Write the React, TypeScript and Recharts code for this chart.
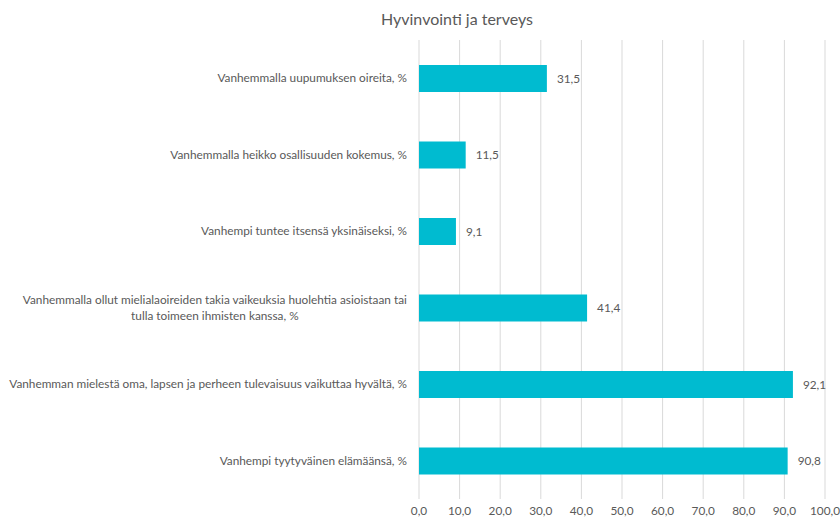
import { BarChart, Bar, XAxis, YAxis, CartesianGrid, LabelList } from "recharts";

const categories = [
  "Vanhemmalla uupumuksen oireita, %",
  "Vanhemmalla heikko osallisuuden kokemus, %",
  "Vanhempi tuntee itsensä yksinäiseksi, %",
  "Vanhemmalla ollut mielialaoireiden takia vaikeuksia huolehtia asioistaan tai\ntulla toimeen ihmisten kanssa, %",
  "Vanhemman mielestä oma, lapsen ja perheen tulevaisuus vaikuttaa hyvältä, %",
  "Vanhempi tyytyväinen elämäänsä, %",
];
const values = [31.5, 11.5, 9.1, 41.4, 92.1, 90.8];
const xTicks = [0, 10, 20, 30, 40, 50, 60, 70, 80, 90, 100];

const FONT = "Lato, 'Open Sans', sans-serif";
const TEXT = "#595959";
const BAR = "#00BBD0";
const LABEL_SIZE = 11.8;

const data = categories.map((name, i) => ({ name, value: values[i] }));

const fmt = (v: number) => v.toFixed(1).replace(".", ",");

let ctx: CanvasRenderingContext2D | null = null;
function measure(s: string, size: number) {
  if (!ctx) ctx = document.createElement("canvas").getContext("2d");
  if (!ctx) return s.length * size * 0.5;
  ctx.font = `${size}px Lato`;
  return ctx.measureText(s).width;
}

function CategoryTick(props: any) {
  const { x, y, payload } = props;
  const lines: string[] = String(payload.value).split("\n");
  if (lines.length === 1) {
    return (
      <text x={x} y={y} dy={4} textAnchor="end" fontSize={LABEL_SIZE} fill={TEXT} fontFamily={FONT}>
        {lines[0]}
      </text>
    );
  }
  // wrapped label: lines centred on each other, right edge at the tick
  const w = Math.max(...lines.map((l) => measure(l, LABEL_SIZE)));
  const lh = 16.5;
  const start = y - ((lines.length - 1) * lh) / 2;
  return (
    <text textAnchor="middle" fontSize={LABEL_SIZE} fill={TEXT} fontFamily={FONT}>
      {lines.map((l, i) => (
        <tspan key={i} x={x - w / 2} y={start + i * lh} dy={4}>
          {l}
        </tspan>
      ))}
    </text>
  );
}

export default function App() {
  return (
    <div style={{ position: "absolute", left: 0, top: 0, width: 840, height: 520, background: "#fff" }}>
      <div
        style={{
          position: "absolute",
          top: 9,
          left: 457,
          transform: "translateX(-50%)",
          fontFamily: FONT,
          fontSize: 16,
          color: TEXT,
          whiteSpace: "nowrap",
        }}
      >
        Hyvinvointi ja terveys
      </div>
      <BarChart
        width={840}
        height={520}
        data={data}
        layout="vertical"
        margin={{ top: 40, right: 15, left: 0, bottom: 0 }}
        barCategoryGap={0}
      >
        <CartesianGrid stroke="#D9D9D9" horizontal={false} />
        <XAxis
          type="number"
          domain={[0, 100]}
          ticks={xTicks}
          interval={0}
          tickFormatter={fmt}
          axisLine={false}
          tickLine={false}
          height={21}
          tick={{ fontSize: LABEL_SIZE, fill: TEXT, fontFamily: FONT }}
        />
        <YAxis
          type="category"
          dataKey="name"
          width={419}
          axisLine={false}
          tickLine={false}
          tickSize={0}
          tickMargin={12}
          interval={0}
          tick={<CategoryTick />}
        />
        <Bar dataKey="value" fill={BAR} barSize={27} isAnimationActive={false}>
          <LabelList
            dataKey="value"
            position="right"
            offset={10}
            formatter={(v: any) => fmt(Number(v))}
            style={{ fontSize: LABEL_SIZE, fill: TEXT, fontFamily: FONT }}
          />
        </Bar>
      </BarChart>
    </div>
  );
}
